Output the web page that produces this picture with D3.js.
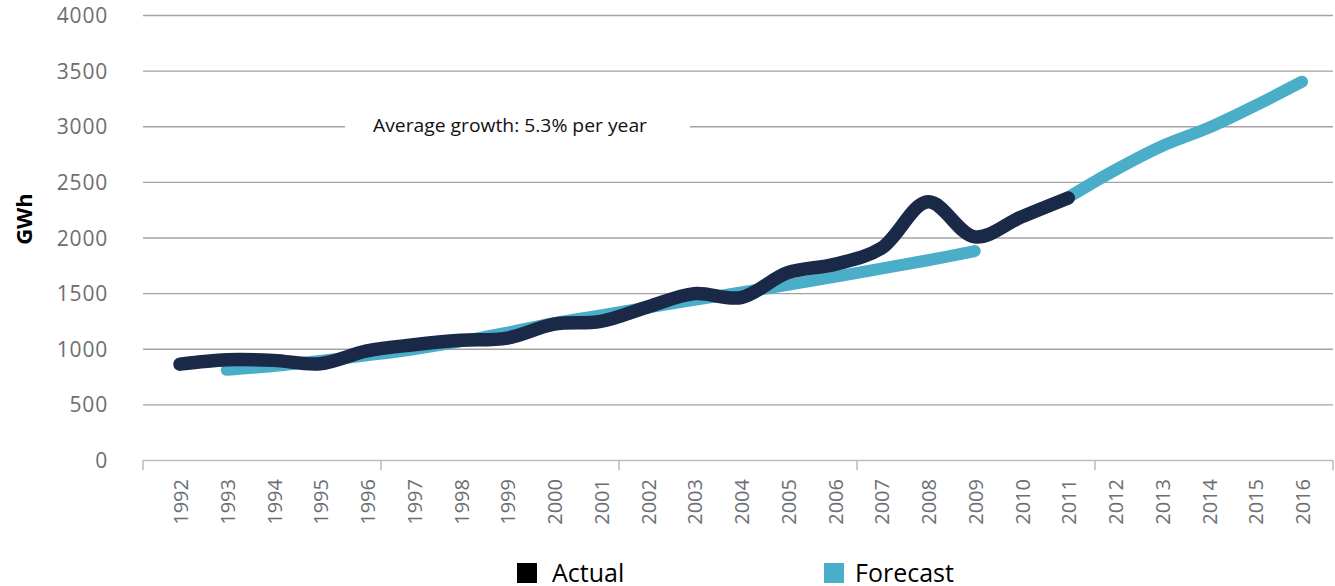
<!DOCTYPE html>
<html lang="en">
<meta charset="UTF-8">
<title>GWh actual vs forecast</title>
<script src="https://d3js.org/d3.v7.min.js"></script>
<style>
body { margin: 0; background: #fff; overflow: hidden; }
text { font-family: "Open Sans", sans-serif; }
.grid line { stroke: #a3a3a3; stroke-width: 1.3px; }
.ylab, .xlab { fill: #6d6e71; }
.xaxis line, .xaxis path { stroke: #bdbdbd; stroke-width: 1.5px; fill: none; }
</style>
<body>
<svg width="1335" height="586"></svg>
<script>
// data
const years = ['1992','1993','1994','1995','1996','1997','1998','1999','2000','2001','2002','2003',
  '2004','2005','2006','2007','2008','2009','2010','2011','2012','2013','2014','2015','2016'];
const actualYears = years.slice(0, 20);
const actual = [866, 905, 900, 870, 985, 1040, 1080, 1100, 1225, 1250, 1380, 1500,
  1465, 1688, 1763, 1907, 2325, 2010, 2190, 2360];
const forecastYears1 = years.slice(1, 18);
const forecast1 = [815, 850, 895, 945, 1000, 1070, 1150, 1235, 1305, 1375, 1445,
  1510, 1578, 1650, 1725, 1800, 1883];
const forecastYears2 = years.slice(19);
const forecast2 = [2365, 2610, 2825, 2990, 3190, 3405];
const yTicks = [0, 500, 1000, 1500, 2000, 2500, 3000, 3500, 4000];
const note = 'Average growth: 5.3% per year';

const svg = d3.select('svg');

const y = d3.scaleLinear().domain([0, 4000]).range([460.5, 15.5]);
const x = d3.scalePoint().domain(years).range([180, 1302]);
const xTick = d3.scaleLinear().domain([0, 25]).range([143, 1333]);

// gridlines, the 3000 one broken for the note
const grid = svg.append('g').attr('class', 'grid');
yTicks.filter(d => d > 0).forEach(d => {
  if (d === 3000) {
    grid.append('line').attr('x1', 143).attr('x2', 345).attr('y1', y(d)).attr('y2', y(d));
    grid.append('line').attr('x1', 690).attr('x2', 1333).attr('y1', y(d)).attr('y2', y(d));
  } else {
    grid.append('line').attr('x1', 143).attr('x2', 1333).attr('y1', y(d)).attr('y2', y(d));
  }
});

svg.append('text')
    .attr('x', 373).attr('y', 132)
    .attr('font-size', 17.5)
    .attr('textLength', 274)
    .attr('lengthAdjust', 'spacingAndGlyphs')
    .attr('fill', '#111')
    .text(note);

// y labels
svg.append('g').selectAll('text').data(yTicks)
  .join('text')
    .attr('class', 'ylab')
    .attr('x', 108)
    .attr('y', d => y(d))
    .attr('dy', '0.36em')
    .attr('text-anchor', 'end')
    .attr('font-size', 21)
    .attr('letter-spacing', 0.8)
    .text(d => d);

svg.append('text')
    .attr('transform', 'translate(32,219) rotate(-90)')
    .attr('text-anchor', 'middle')
    .attr('font-size', 22)
    .attr('font-weight', 'bold')
    .attr('fill', '#000')
    .text('GWh');

// x axis
const xa = svg.append('g').attr('class', 'xaxis');
xa.append('line').attr('x1', 143).attr('x2', 1333).attr('y1', 460.5).attr('y2', 460.5);
xa.selectAll('.tk').data(d3.range(0, 26, 5))
  .join('line')
    .attr('class', 'tk')
    .attr('x1', d => xTick(d)).attr('x2', d => xTick(d))
    .attr('y1', 460).attr('y2', 470);

svg.append('g').selectAll('text').data(years)
  .join('text')
    .attr('class', 'xlab')
    .attr('transform', d => `translate(${x(d) + 1},479) rotate(-90)`)
    .attr('text-anchor', 'end')
    .attr('dy', '0.35em')
    .attr('font-size', 20)
    .text(d => d);

// lines
const line = d3.line()
    .x(d => x(d[0]))
    .y(d => y(d[1]))
    .curve(d3.curveCatmullRom.alpha(0.5));

const drawLine = (ys, vals, color, width) =>
  svg.append('path')
      .attr('d', line(ys.map((k, i) => [k, vals[i]])))
      .attr('fill', 'none')
      .attr('stroke', color)
      .attr('stroke-width', width)
      .attr('stroke-linecap', 'round')
      .attr('stroke-linejoin', 'round');

drawLine(forecastYears1, forecast1, '#4baec8', 12);
drawLine(forecastYears2, forecast2, '#4baec8', 12);
drawLine(actualYears, actual, '#1b2949', 13.5);

// legend (cut by the bottom edge, as in the original)
const legend = [['Actual', '#000', 517, 552], ['Forecast', '#4baec8', 824, 855]];
legend.forEach(([name, color, sx, tx]) => {
  svg.append('rect').attr('x', sx).attr('y', 563).attr('width', 20).attr('height', 20).attr('fill', color);
  svg.append('text').attr('x', tx).attr('y', 582)
      .attr('font-size', 25).attr('fill', '#000').text(name);
});
</script>
</body>
</html>
